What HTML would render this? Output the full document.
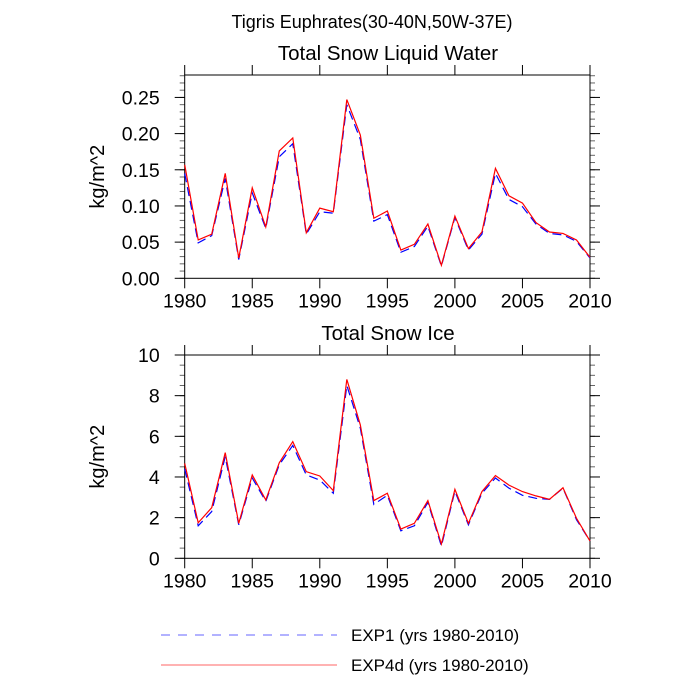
<!DOCTYPE html>
<html><head><meta charset="utf-8"><style>
body{margin:0;background:#fff;}
svg{display:block;font-family:"Liberation Sans",sans-serif;}
</style></head><body>
<svg id="c" width="700" height="700" xmlns="http://www.w3.org/2000/svg">
<text x="372" y="28" font-size="18" text-anchor="middle">Tigris Euphrates(30-40N,50W-37E)</text>
<g>
<line x1="161" y1="635" x2="337" y2="635" stroke="#6666ff" stroke-width="1" stroke-dasharray="9,8"/>
<text x="351" y="641" font-size="17">EXP1 (yrs 1980-2010)</text>
<line x1="161" y1="665" x2="337" y2="665" stroke="#ff6666" stroke-width="1"/>
<text x="351" y="671" font-size="17">EXP4d (yrs 1980-2010)</text>
</g>
</svg>
<script>
const years = Array.from({length:31},(_,i)=>1980+i);
const xTicks = [1980,1985,1990,1995,2000,2005,2010];
const liqExp1 = [.145,.049,.059,.138,.026,.118,.069,.168,.186,.061,.092,.090,.240,.192,.079,.088,.036,.044,.072,.017,.084,.039,.061,.145,.109,.099,.075,.062,.060,.051,.028];
const liqExp4d = [.157,.053,.061,.145,.028,.125,.071,.176,.194,.063,.097,.092,.247,.198,.083,.093,.039,.047,.075,.018,.086,.041,.064,.152,.114,.104,.077,.064,.062,.053,.029];
const liqTicks = [0,0.05,0.10,0.15,0.20,0.25];
const liqTickLabels = ["0.00","0.05","0.10","0.15","0.20","0.25"];
const iceExp1 = [4.4,1.6,2.3,5.0,1.65,3.95,2.8,4.6,5.55,4.1,3.85,3.2,8.5,6.4,2.65,3.1,1.35,1.6,2.75,0.6,3.3,1.65,3.2,3.95,3.45,3.1,2.95,2.9,3.45,1.9,0.85];
const iceExp4d = [4.67,1.75,2.49,5.2,1.72,4.1,2.87,4.7,5.74,4.26,4.05,3.33,8.8,6.56,2.84,3.2,1.44,1.72,2.84,0.7,3.39,1.72,3.28,4.07,3.6,3.28,3.07,2.9,3.47,1.97,0.85];
const iceTicks = [0,2,4,6,8,10];
const iceTickLabels = ["0","2","4","6","8","10"];

const svg = document.getElementById('c');
const NS = 'http://www.w3.org/2000/svg';
function mk(tag, attrs, parent){const e=document.createElementNS(NS,tag);for(const k in attrs)e.setAttribute(k,attrs[k]);(parent||svg).appendChild(e);return e;}

function panel(opt){
  const L=184.7,R=590,T=opt.top,B=opt.bottom;
  const g=mk('g',{});
  
  
  const xs=v=>L+(v-1980)/30*(R-L);
  const ys=v=>B-(v-opt.ymin)/(opt.ymax-opt.ymin)*(B-T);
  const t=mk('text',{x:388,y:T-15,'font-size':20.5,'text-anchor':'middle'},g);
  t.textContent=opt.title;
  
  
  const yl=mk('text',{x:0,y:0,'font-size':20,'text-anchor':'middle',transform:`translate(104,${(T+B)/2}) rotate(-90)`},g);
  yl.textContent='kg/m^2';
  
  
  for(let v=opt.ymin;v<=opt.ymax+1e-9;v+=opt.minor){
    const y=ys(v);
    mk('line',{x1:L-5,y1:y,x2:L,y2:y,stroke:'#666','stroke-width':1},g);
    mk('line',{x1:R,y1:y,x2:R+5,y2:y,stroke:'#666','stroke-width':1},g);
  }
  opt.ticks.forEach((v,i)=>{
    const y=ys(v);
    mk('line',{x1:L-10,y1:y,x2:L,y2:y,stroke:'#000','stroke-width':1},g);
    mk('line',{x1:R,y1:y,x2:R+10,y2:y,stroke:'#000','stroke-width':1},g);
    const tx=mk('text',{x:L-25,y:y+7,'font-size':19.5,'text-anchor':'end'},g);
    tx.textContent=opt.labels[i];
    
    
  });
  xTicks.forEach(v=>{
    const x=xs(v);
    mk('line',{x1:x,y1:B,x2:x,y2:B+10,stroke:'#000','stroke-width':1},g);
    mk('line',{x1:x,y1:T-10,x2:x,y2:T,stroke:'#000','stroke-width':1},g);
    const tx=mk('text',{x:x,y:B+29,'font-size':19.5,'text-anchor':'middle'},g);
    tx.textContent=String(v);
    
    
  });
  const fr=mk('rect',{x:L,y:T,width:R-L,height:B-T,fill:'none',stroke:'#000','stroke-width':1},g);
  
  
  const p1=mk('polyline',{points:opt.s1.map((v,i)=>xs(years[i])+','+ys(v)).join(' '),fill:'none',stroke:'#0000ff','stroke-width':1.2,'stroke-dasharray':'9,5'},g);
  
  
  const p2=mk('polyline',{points:opt.s2.map((v,i)=>xs(years[i])+','+ys(v)).join(' '),fill:'none',stroke:'#ff0000','stroke-width':1.2},g);
  
  
}
panel({name:'liquid-water-panel',title:'Total Snow Liquid Water',top:75,bottom:278.3,ymin:0,ymax:0.281,minor:0.01,ticks:liqTicks,labels:liqTickLabels,s1:liqExp1,s2:liqExp4d});
panel({name:'snow-ice-panel',title:'Total Snow Ice',top:355,bottom:558.3,ymin:0,ymax:10,minor:0.5,ticks:iceTicks,labels:iceTickLabels,s1:iceExp1,s2:iceExp4d});
</script>
</body></html>
